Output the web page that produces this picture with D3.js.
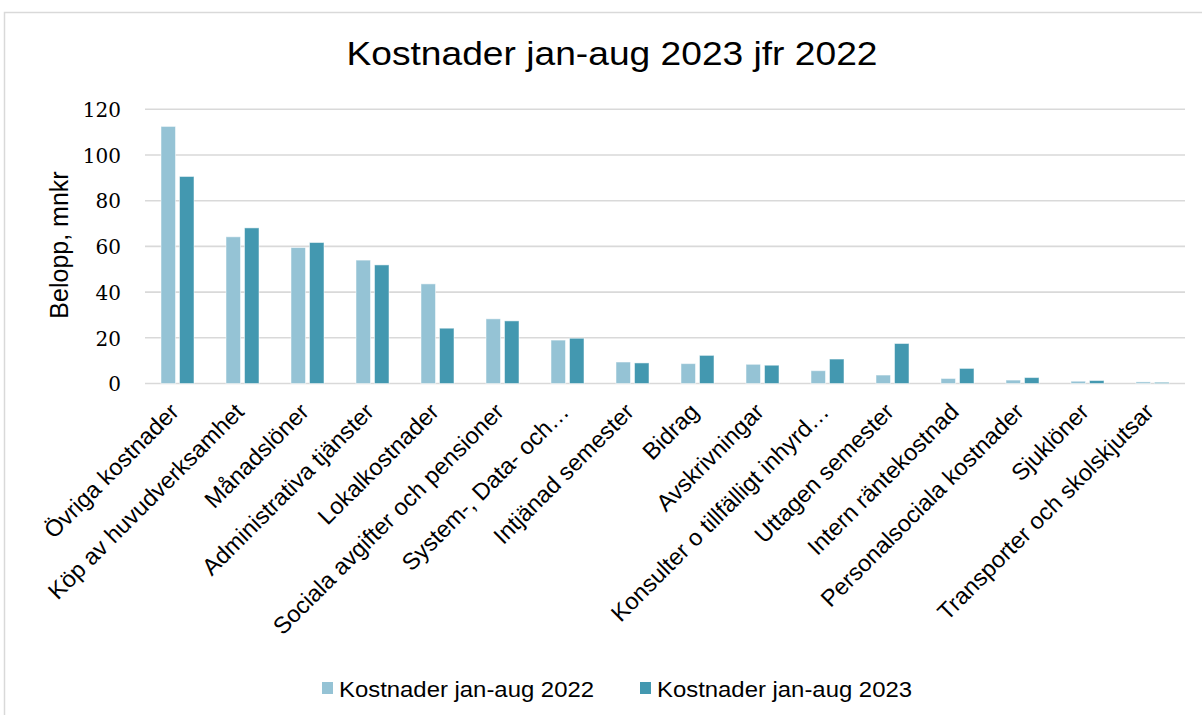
<!DOCTYPE html>
<html><head><meta charset="utf-8">
<script src="https://cdn.jsdelivr.net/npm/d3@7"></script>
<style>html,body{margin:0;padding:0;background:#fff;}</style>
</head><body>
<svg id="chart" width="1202" height="715"></svg>
<script>
const categories = ["Övriga kostnader","Köp av huvudverksamhet","Månadslöner","Administrativa tjänster","Lokalkostnader","Sociala avgifter och pensioner","System-, Data- och…","Intjänad semester","Bidrag","Avskrivningar","Konsulter o tillfälligt inhyrd…","Uttagen semester","Intern räntekostnad","Personalsociala kostnader","Sjuklöner","Transporter och skolskjutsar"];
const values2022 = [112.5,64.2,59.5,54.0,43.6,28.3,19.0,9.4,8.7,8.4,5.6,3.7,2.2,1.5,1.0,0.7];
const values2023 = [90.6,68.1,61.7,51.9,24.2,27.4,19.8,9.0,12.3,8.0,10.7,17.5,6.6,2.6,1.3,0.5];
const seriesNames = ["Kostnader jan-aug 2022","Kostnader jan-aug 2023"];
const seriesColors = ["#95c3d5","#4398b0"];
const yTicks = [0,20,40,60,80,100,120];
const title = "Kostnader jan-aug 2023 jfr 2022";
const yTitle = "Belopp, mnkr";

const svg = d3.select("#chart");
const L = 145, R = 1185, T = 109.3, B = 383.5;

svg.append("rect").attr("x",4.5).attr("y",12.5).attr("width",1220).attr("height",730)
  .attr("fill","#fff").attr("stroke","#d9d9d9").attr("stroke-width",1.5);

const x = d3.scaleBand().domain(categories).range([L,R]).paddingInner(0.4923).paddingOuter(0.24615);
const xs = d3.scaleBand().domain([0,1]).range([0,x.bandwidth()]).paddingInner(0.216);
const y = d3.scaleLinear().domain([0,120]).range([B,T]);

// gridlines
svg.append("g").selectAll("line").data(yTicks).join("line")
  .attr("x1",L).attr("x2",R).attr("y1",d=>y(d)).attr("y2",d=>y(d))
  .attr("stroke","#d9d9d9").attr("stroke-width",1.6);

// y axis labels
const yAxis = d3.axisLeft(y).tickValues(yTicks).tickSize(0).tickPadding(0);
const gy = svg.append("g").attr("transform",`translate(${L-24},0)`).call(yAxis);
gy.select(".domain").remove();
gy.selectAll("text").attr("font-family","DejaVu Serif").attr("font-size",20).attr("fill","#000").attr("dy","0.36em");

// bars
const series = [values2022, values2023];
series.forEach((vals,si)=>{
  svg.append("g").selectAll("rect").data(vals).join("rect")
    .attr("x",(d,i)=>x(categories[i])+xs(si))
    .attr("width",xs.bandwidth())
    .attr("y",d=>y(d))
    .attr("height",d=>y(0)-y(d))
    .attr("fill",seriesColors[si])
    .attr("stroke","#ffffff").attr("stroke-opacity",0.5).attr("stroke-width",1);
});

// x labels
const xAxis = d3.axisBottom(x).tickSize(0).tickPadding(0);
const gx = svg.append("g").attr("transform",`translate(0,${B})`).call(xAxis);
gx.select(".domain").remove();
gx.selectAll("text")
  .attr("font-family","Liberation Sans, Arial").attr("font-size",23.5).attr("fill","#000")
  .attr("text-anchor","end").attr("dy","0.35em")
  .attr("transform","translate(-3,24) rotate(-45)");

// title
svg.append("text").attr("x",612).attr("y",65).attr("text-anchor","middle")
  .attr("font-family","Liberation Sans, Arial").attr("font-size",34)
  .attr("textLength",531).attr("lengthAdjust","spacingAndGlyphs").text(title);

// y title
svg.append("text").attr("transform","translate(68,245) rotate(-90)").attr("text-anchor","middle")
  .attr("font-family","Liberation Sans, Arial").attr("font-size",25).text(yTitle);

// legend
const legX = [322, 640];
seriesNames.forEach((n,i)=>{
  const g = svg.append("g").attr("transform",`translate(${legX[i]},0)`);
  g.append("rect").attr("x",0).attr("y",682).attr("width",11).attr("height",12).attr("fill",seriesColors[i]);
  g.append("text").attr("x",17).attr("y",697).attr("font-family","Liberation Sans, Arial").attr("font-size",22)
    .attr("textLength",255).attr("lengthAdjust","spacingAndGlyphs").text(n);
});
</script>
</body></html>
